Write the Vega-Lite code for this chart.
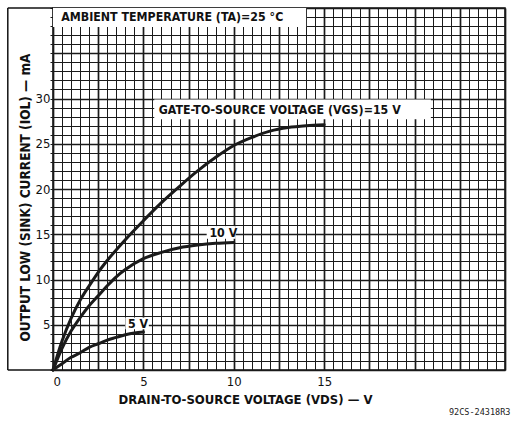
{
  "$schema": "https://vega.github.io/schema/vega-lite/v6.json",
  "width": 452,
  "height": 362,
  "autosize": {"type": "none"},
  "padding": {"left": 53, "top": 8, "right": 7, "bottom": 51},
  "background": "white",
  "config": {
    "view": {"stroke": "#111", "strokeWidth": 1.5},
    "font": "DejaVu Sans Condensed"
  },
  "encoding": {
    "x": {
      "field": "vds", "type": "quantitative",
      "scale": {"domain": [0, 25], "nice": false, "zero": true},
      "axis": {
        "title": "DRAIN-TO-SOURCE VOLTAGE (VDS) — V",
        "titleFont": "DejaVu Sans Condensed", "titleFontWeight": "bold", "titleFontSize": 13, "titleColor": "#111",
        "titleX": 192, "titleY": 23, "titleBaseline": "top", "titleAnchor": "middle",
        "values": [0,0.5,1,1.5,2,2.5,3,3.5,4,4.5,5,5.5,6,6.5,7,7.5,8,8.5,9,9.5,10,10.5,11,11.5,12,12.5,13,13.5,14,14.5,15,15.5,16,16.5,17,17.5,18,18.5,19,19.5,20,20.5,21,21.5,22,22.5,23,23.5,24,24.5,25],
        "labelExpr": "(datum.value === 0 || datum.value === 5 || datum.value === 10 || datum.value === 15) ? '' + datum.value : ''",
        "labelOverlap": false, "labelFontSize": 13, "labelColor": "#111", "labelPadding": 5,
        "ticks": false, "domain": false,
        "grid": true, "gridColor": "#1a1a1a", "gridOpacity": 1,
        "gridWidth": {"condition": {"test": "datum.value % 2.5 === 0", "value": 1.7}, "value": 1}
      }
    },
    "y": {
      "field": "iol", "type": "quantitative",
      "scale": {"domain": [0, 40], "nice": false, "zero": true},
      "axis": {
        "title": "OUTPUT LOW (SINK) CURRENT (IOL) — mA",
        "titleFont": "DejaVu Sans Condensed", "titleFontWeight": "bold", "titleFontSize": 13.5, "titleColor": "#111",
        "titleX": -28, "titleY": 189, "titleAngle": -90, "titleBaseline": "middle", "titleAnchor": "middle",
        "values": [0,1,2,3,4,5,6,7,8,9,10,11,12,13,14,15,16,17,18,19,20,21,22,23,24,25,26,27,28,29,30,31,32,33,34,35,36,37,38,39,40],
        "labelExpr": "(datum.value % 5 === 0 && datum.value > 0 && datum.value <= 30) ? '' + datum.value : ''",
        "labelOverlap": false, "labelFontSize": 13, "labelColor": "#111", "labelPadding": 0,
        "ticks": true, "tickSize": 3, "tickColor": "#1a1a1a", "domain": false,
        "grid": true, "gridColor": "#1a1a1a", "gridOpacity": 1,
        "gridWidth": {"condition": {"test": "datum.value % 5 === 0", "value": 1.7}, "value": 1}
      }
    }
  },
  "layer": [
    {
      "data": {"values": [
        {"vgs": "15 V", "vds": 0, "iol": 0}, {"vgs": "15 V", "vds": 0.5, "iol": 3.2}, {"vgs": "15 V", "vds": 1, "iol": 5.7},
        {"vgs": "15 V", "vds": 1.5, "iol": 7.7}, {"vgs": "15 V", "vds": 2, "iol": 9.3}, {"vgs": "15 V", "vds": 2.5, "iol": 10.8},
        {"vgs": "15 V", "vds": 3, "iol": 12.1}, {"vgs": "15 V", "vds": 4, "iol": 14.4}, {"vgs": "15 V", "vds": 5, "iol": 16.5},
        {"vgs": "15 V", "vds": 6, "iol": 18.5}, {"vgs": "15 V", "vds": 7, "iol": 20.3}, {"vgs": "15 V", "vds": 8, "iol": 22.0},
        {"vgs": "15 V", "vds": 9, "iol": 23.5}, {"vgs": "15 V", "vds": 10, "iol": 24.8}, {"vgs": "15 V", "vds": 11, "iol": 25.7},
        {"vgs": "15 V", "vds": 12, "iol": 26.4}, {"vgs": "15 V", "vds": 13, "iol": 26.8}, {"vgs": "15 V", "vds": 14, "iol": 27.0},
        {"vgs": "15 V", "vds": 15, "iol": 27.1},
        {"vgs": "10 V", "vds": 0, "iol": 0}, {"vgs": "10 V", "vds": 0.5, "iol": 2.4}, {"vgs": "10 V", "vds": 1, "iol": 4.3},
        {"vgs": "10 V", "vds": 1.5, "iol": 5.8}, {"vgs": "10 V", "vds": 2, "iol": 7.1}, {"vgs": "10 V", "vds": 2.5, "iol": 8.2},
        {"vgs": "10 V", "vds": 3, "iol": 9.3}, {"vgs": "10 V", "vds": 3.5, "iol": 10.3}, {"vgs": "10 V", "vds": 4, "iol": 11.1},
        {"vgs": "10 V", "vds": 5, "iol": 12.3}, {"vgs": "10 V", "vds": 6, "iol": 13.0}, {"vgs": "10 V", "vds": 7, "iol": 13.5},
        {"vgs": "10 V", "vds": 8, "iol": 13.8}, {"vgs": "10 V", "vds": 9, "iol": 14.0}, {"vgs": "10 V", "vds": 10, "iol": 14.1},
        {"vgs": "5 V", "vds": 0, "iol": 0}, {"vgs": "5 V", "vds": 0.5, "iol": 0.7}, {"vgs": "5 V", "vds": 1, "iol": 1.4},
        {"vgs": "5 V", "vds": 1.5, "iol": 1.9}, {"vgs": "5 V", "vds": 2, "iol": 2.5}, {"vgs": "5 V", "vds": 2.5, "iol": 2.9},
        {"vgs": "5 V", "vds": 3, "iol": 3.3}, {"vgs": "5 V", "vds": 3.5, "iol": 3.6}, {"vgs": "5 V", "vds": 4, "iol": 3.9},
        {"vgs": "5 V", "vds": 4.5, "iol": 4.1}, {"vgs": "5 V", "vds": 5, "iol": 4.2}
      ]},
      "mark": {"type": "line", "interpolate": "monotone", "strokeWidth": 3, "color": "#1a1a1a", "strokeCap": "round"},
      "encoding": {
        "detail": {"field": "vgs", "type": "nominal"}
      }
    },
    {
      "data": {"values": [
        {"box": "ambient", "vds": 0, "vds2": 14.0, "iol": 37.9, "iol2": 40},
        {"box": "gate", "vds": 5.6, "vds2": 20.9, "iol": 27.7, "iol2": 29.9},
        {"box": "10 V", "vds": 8.5, "vds2": 10.1, "iol": 14.5, "iol2": 15.9},
        {"box": "5 V", "vds": 4.0, "vds2": 5.3, "iol": 4.5, "iol2": 5.8}
      ]},
      "mark": {"type": "rect", "color": "white", "opacity": 1},
      "encoding": {
        "x2": {"field": "vds2"},
        "y2": {"field": "iol2"}
      }
    },
    {
      "data": {"values": [
        {"label": "AMBIENT TEMPERATURE (TA)=25 °C", "vds": 0.45, "iol": 39.0}
      ]},
      "mark": {"type": "text", "font": "DejaVu Sans Condensed", "fontWeight": "bold", "fontSize": 12.3, "align": "left", "baseline": "middle", "color": "#111"},
      "encoding": {"text": {"field": "label"}}
    },
    {
      "data": {"values": [
        {"label": "GATE-TO-SOURCE VOLTAGE (VGS)=15 V", "vds": 5.85, "iol": 28.75}
      ]},
      "mark": {"type": "text", "font": "DejaVu Sans Condensed", "fontWeight": "bold", "fontSize": 12.3, "letterSpacing": 0.8, "align": "left", "baseline": "middle", "color": "#111"},
      "encoding": {"text": {"field": "label"}}
    },
    {
      "data": {"values": [
        {"label": "10 V", "vds": 8.65, "iol": 15.15},
        {"label": "5 V", "vds": 4.15, "iol": 5.1}
      ]},
      "mark": {"type": "text", "font": "DejaVu Sans Condensed", "fontWeight": "bold", "fontSize": 12.3, "align": "left", "baseline": "middle", "color": "#111"},
      "encoding": {"text": {"field": "label"}}
    },
    {
      "data": {"values": [
        {"vds": -2.5, "vds2": -2.5, "iol": 0, "iol2": 40},
        {"vds": -2.5, "vds2": 0, "iol": 0, "iol2": 0},
        {"vds": -2.5, "vds2": 0, "iol": 40, "iol2": 40}
      ]},
      "mark": {"type": "rule", "color": "#111", "strokeWidth": 1.5, "clip": false},
      "encoding": {
        "x2": {"field": "vds2"},
        "y2": {"field": "iol2"}
      }
    },
    {
      "data": {"values": [{"label": "92CS-24318R3", "vds": 25.3, "iol": -4.6}]},
      "mark": {"type": "text", "font": "DejaVu Sans Mono", "fontSize": 8.5, "letterSpacing": 0.8, "align": "right", "baseline": "middle", "color": "#222", "clip": false},
      "encoding": {"text": {"field": "label"}}
    }
  ]
}
